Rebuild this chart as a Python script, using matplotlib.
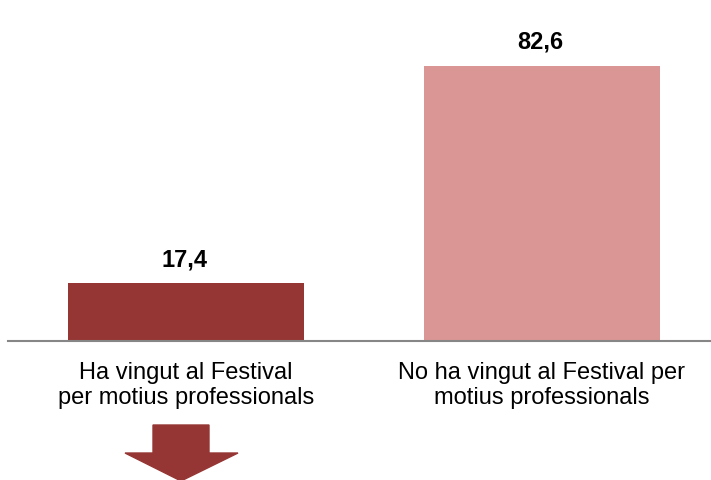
import matplotlib.pyplot as plt
from matplotlib.patches import Polygon

categories = ["Ha vingut al Festival\nper motius professionals",
              "No ha vingut al Festival per\nmotius professionals"]
values = [17.4, 82.6]
value_labels = ["17,4", "82,6"]
colors = ["#963634", "#DA9694"]

plt.rcParams['font.family'] = ['Liberation Sans', 'DejaVu Sans']

fig = plt.figure(figsize=(7.11, 4.8), dpi=100)
ax = fig.add_axes([8 / 711, (480 - 341) / 480, 712 / 711, 300 / 480])

ax.bar(range(len(values)), values, width=0.663, color=colors)
for i, (v, lab) in enumerate(zip(values, value_labels)):
    ax.text(i - 0.005, v + 5.1, lab, ha='center', va='baseline', fontsize=17, fontweight='bold')

ax.set_xlim(-0.5, 1.5)
ax.set_ylim(0, 90)
ax.set_yticks([])
ax.set_xticks(range(len(categories)))
ax.set_xticklabels(categories, fontsize=17, linespacing=1.17)
ax.tick_params(axis='x', length=0, pad=15)
for s in ['top', 'right', 'left']:
    ax.spines[s].set_visible(False)
ax.spines['bottom'].set_color('#868686')
ax.spines['bottom'].set_linewidth(1.5)

# down arrow under the first category
pts = [(153, 425), (209, 425), (209, 453), (238, 453), (181, 481), (125, 453), (153, 453)]
pts = [(x / 711, 1 - y / 480) for x, y in pts]
fig.patches.append(Polygon(pts, closed=True, transform=fig.transFigure, color=colors[0]))

fig.savefig("out.png", dpi=100)
